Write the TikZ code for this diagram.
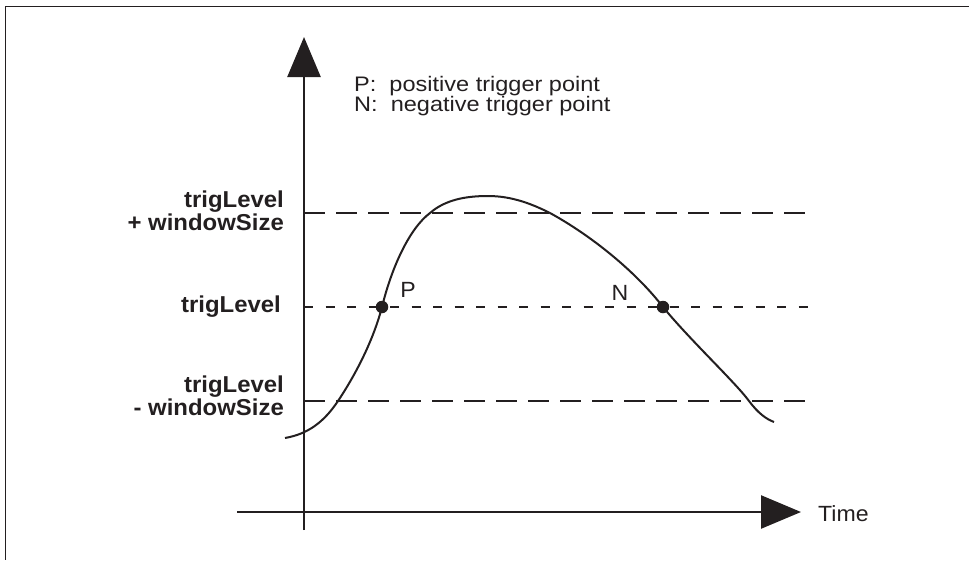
\documentclass[tikz,border=0pt]{standalone}
\usepackage{fontspec}
\setmainfont{Liberation Sans}
\newfontfamily\legfont[FakeStretch=1.12]{Liberation Sans}
\newfontfamily\axfont[FakeStretch=1.05]{Liberation Sans}
\newfontfamily\lblfont[FakeStretch=1.04]{Liberation Sans}
\usetikzlibrary{arrows.meta}
\definecolor{ink}{RGB}{35,31,32}
\tikzset{
  axisline/.style={draw=ink, line width=2.5pt, -{Triangle[length=40pt,width=33pt]}},
  longdash/.style={draw=ink, line width=2.5pt, dash pattern=on 21pt off 11pt},
  shortdash/.style={draw=ink, line width=2.5pt, dash pattern=on 9pt off 12.5pt},
  curve/.style={draw=ink, line width=2pt},
  tdot/.style={circle, fill=ink, inner sep=0pt, minimum size=12.5pt},
  lvl/.style={font=\lblfont\bfseries\fontsize{23}{23.5}\selectfont, text=ink, align=right, anchor=east, inner sep=0pt},
  leg/.style={font=\legfont\fontsize{21}{20}\selectfont, text=ink, align=left, anchor=west, inner sep=0pt},
  ax/.style={font=\axfont\fontsize{22}{22}\selectfont, text=ink, inner sep=0pt},
  frameline/.style={draw=ink, line width=1.3pt}
}
\begin{document}
\begin{tikzpicture}[x=1pt,y=-1pt]
\useasboundingbox (0,0) rectangle (969,560);
% frame (top and left)
\coordinate (fTL) at (5.5,6.5);
\coordinate (fTR) at (969,6.5);
\coordinate (fBL) at (5.5,560);
\draw[frameline] (fTR) -- (fTL) -- (fBL);
% axes
\coordinate (yb) at (304,530);
\coordinate (yt) at (304,37);
\coordinate (xl) at (237,512);
\coordinate (xr) at (801,512);
\draw[axisline] (yb) -- (yt);
\draw[axisline] (xl) -- (xr);
% levels
\coordinate (u0) at (304,213); \coordinate (u1) at (808,213);
\coordinate (m0) at (304,307); \coordinate (m1) at (808,307);
\coordinate (l0) at (304,401); \coordinate (l1) at (808,401);
\draw[longdash] (u0) -- (u1);
\draw[shortdash] (m0) -- (m1);
\draw[longdash] (l0) -- (l1);
% trigger points
\node[tdot] (P) at (382,307) {};
\node[tdot] (N) at (663,307) {};
% curve
\coordinate (c0) at (285,438);
\coordinate (c1) at (338,401);
\coordinate (c3) at (430,213);
\coordinate (c4) at (488,196);
\coordinate (c5) at (550,213);
\coordinate (c7) at (749,401);
\coordinate (c8) at (774,422);
\draw[curve] (c0) .. controls (308,434) and (324,422) .. (c1)
  .. controls (352,380) and (372,345) .. (P.center)
  .. controls (392,266) and (410,228) .. (c3)
  .. controls (445,200) and (465,196) .. (c4)
  .. controls (512,196) and (532,204) .. (c5)
  .. controls (592,236) and (636,272) .. (N.center)
  .. controls (690,340) and (735,382) .. (c7)
  .. controls (758,413) and (766,419) .. (c8);
\node[ax] (Plbl) at (408,290) {P};
\node[ax] (Nlbl) at (620,293) {N};
\node[ax, anchor=west] (time) at (818,514) {Time};
% legend
\node[leg] (leg1) at (354,86) {P:\ \ positive trigger point};
\node[leg] (leg2) at (354,106) {N:\ \ negative trigger point};
% level labels
\node[lvl] (lu) at (284,211) {trigLevel\\+ windowSize};
\node[lvl] (lm) at (281,307) {trigLevel};
\node[lvl] (ll) at (284,396) {trigLevel\\- windowSize};
\end{tikzpicture}
\end{document}
